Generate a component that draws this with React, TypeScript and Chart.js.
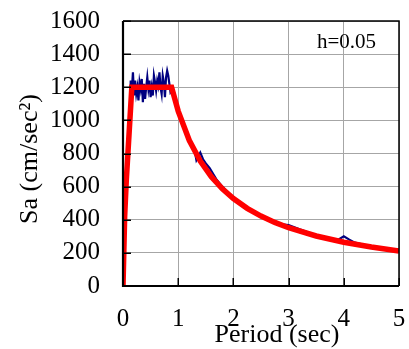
import React, { useEffect, useRef } from 'react';
import { Chart, registerables } from 'chart.js';

Chart.register(...registerables);

// Design spectrum (red)
const redPeriod = [0, 0.03, 0.06, 0.16, 0.88, 1.0, 1.2, 1.4, 1.6, 1.8, 2.0, 2.25, 2.5, 2.75, 3.0, 3.5, 4.0, 4.5, 5.0];
const redSa = [0, 420, 640, 1200, 1200, 1056, 880, 754, 660, 587, 528, 469, 422, 384, 352, 302, 264, 235, 211];

// Response spectrum (blue)
const bluePeriod = [
  0, 0.02, 0.04, 0.06, 0.08, 0.10, 0.12, 0.14, 0.16, 0.18, 0.20, 0.22, 0.24, 0.26, 0.28, 0.30,
  0.32, 0.34, 0.36, 0.38, 0.40, 0.42, 0.44, 0.46, 0.48, 0.50, 0.52, 0.54, 0.56, 0.58, 0.60,
  0.62, 0.64, 0.66, 0.68, 0.70, 0.72, 0.74, 0.76, 0.78, 0.80, 0.82, 0.84, 0.86, 0.88, 0.90,
  0.95, 1.0, 1.05, 1.1, 1.15, 1.2, 1.25, 1.3, 1.33, 1.4, 1.45, 1.5, 1.57, 1.7, 1.8, 1.9, 2.0,
  2.2, 2.4, 2.6, 2.8, 3.0, 3.2, 3.4, 3.6, 3.8, 3.9, 4.0, 4.1, 4.2, 4.4, 4.6, 4.8, 5.0,
];
const blueSa = [
  0, 280, 500, 630, 760, 880, 1000, 1240, 1180, 1290, 1150, 1240, 1160, 1200, 1120, 1230,
  1190, 1250, 1110, 1220, 1130, 1200, 1260, 1190, 1240, 1140, 1200, 1150, 1270, 1230, 1180,
  1240, 1210, 1290, 1200, 1160, 1270, 1230, 1140, 1260, 1300, 1270, 1220, 1170, 1180, 1170,
  1120, 1070, 1010, 970, 930, 895, 860, 815, 760, 805, 765, 740, 711, 640, 600, 565, 535,
  485, 445, 400, 375, 368, 342, 318, 292, 276, 280, 300, 280, 262, 245, 235, 225, 210,
];

const yTickValues = [0, 200, 400, 600, 800, 1000, 1200, 1400, 1600];
const xTickValues = [0, 1, 2, 3, 4, 5];

const xTitle = 'Period (sec)';
const yTitle = 'Sa (cm/sec\u00B2)';
const note = 'h=0.05';

const FONT = '"Liberation Serif", "Times New Roman", serif';

const overlay = {
  id: 'overlay',
  afterDraw(chart: any) {
    const { ctx, chartArea: a, scales } = chart;
    const x = scales.x;
    const y = scales.y;
    ctx.save();
    // inner ticks
    ctx.strokeStyle = '#000';
    ctx.lineWidth = 1.5;
    ctx.beginPath();
    for (const v of yTickValues) {
      const py = Math.round(y.getPixelForValue(v)) + 0.25;
      ctx.moveTo(a.left, py);
      ctx.lineTo(a.left + 8, py);
    }
    for (const v of xTickValues) {
      const px = Math.round(x.getPixelForValue(v)) + 0.25;
      ctx.moveTo(px, a.bottom);
      ctx.lineTo(px, a.bottom - 8);
    }
    ctx.stroke();
    // frame
    ctx.lineWidth = 1.5;
    ctx.beginPath();
    ctx.moveTo(a.left, a.top);
    ctx.lineTo(a.right, a.top);
    ctx.lineTo(a.right, a.bottom);
    ctx.stroke();
    ctx.lineWidth = 2.2;
    ctx.beginPath();
    ctx.moveTo(a.left, a.top);
    ctx.lineTo(a.left, a.bottom);
    ctx.lineTo(a.right, a.bottom);
    ctx.stroke();
    // texts
    ctx.fillStyle = '#000';
    ctx.font = `21px ${FONT}`;
    ctx.textAlign = 'left';
    ctx.textBaseline = 'alphabetic';
    ctx.fillText(note, 317, 48);
    ctx.font = `26px ${FONT}`;
    ctx.textAlign = 'center';
    ctx.fillText(xTitle, 277, 342);
    ctx.translate(37, 159);
    ctx.rotate(-Math.PI / 2);
    ctx.fillText(yTitle, 0, 0);
    ctx.restore();
  },
};

const fixX = (s: any) => {
  s.height = 63;
  s.paddingLeft = 0; s.paddingRight = 0; s.paddingTop = 0; s.paddingBottom = 0;
};
const fixY = (s: any) => {
  s.width = 123;
  s.paddingLeft = 0; s.paddingRight = 0; s.paddingTop = 0; s.paddingBottom = 0;
};

export default function App() {
  const ref = useRef<HTMLCanvasElement | null>(null);
  useEffect(() => {
    if (!ref.current) return;
    const chart = new Chart(ref.current, {
      type: 'line',
      data: {
        datasets: [
          {
            label: 'design',
            data: redPeriod.map((p, i) => ({ x: p, y: redSa[i] })),
            borderColor: '#ff0000',
            borderWidth: 5.5,
            pointRadius: 0,
            tension: 0,
            order: 0,
          },
          {
            label: 'response',
            data: bluePeriod.map((p, i) => ({ x: p, y: blueSa[i] })),
            borderColor: '#000080',
            borderWidth: 2.2,
            pointRadius: 0,
            tension: 0,
            order: 1,
          },
        ],
      },
      options: {
        animation: false,
        responsive: false,
        layout: { padding: { top: 21, right: 10, left: 0, bottom: 0 } },
        plugins: { legend: { display: false }, tooltip: { enabled: false } },
        scales: {
          x: {
            type: 'linear',
            min: 0,
            max: 5,
            afterFit: fixX,
            ticks: {
              stepSize: 1, padding: 18, color: '#000', autoSkip: false, maxRotation: 0,
              font: { family: FONT, size: 25 },
              callback: (v: any) => String(v),
            },
            grid: { color: '#a6a6a6', lineWidth: 1, drawTicks: false },
            border: { display: false },
          },
          y: {
            min: 0,
            max: 1600,
            afterFit: fixY,
            ticks: {
              stepSize: 200, padding: 23, color: '#000', autoSkip: false,
              font: { family: FONT, size: 25 },
              callback: (v: any) => String(v),
            },
            grid: { color: '#a6a6a6', lineWidth: 1, drawTicks: false },
            border: { display: false },
          },
        },
      },
      plugins: [overlay],
    });
    return () => chart.destroy();
  }, []);
  return (
    <div style={{ position: 'absolute', left: 0, top: 0, width: 409, height: 349, background: '#fff' }}>
      <canvas ref={ref} width={409} height={349} style={{ width: 409, height: 349, display: 'block' }} />
    </div>
  );
}
